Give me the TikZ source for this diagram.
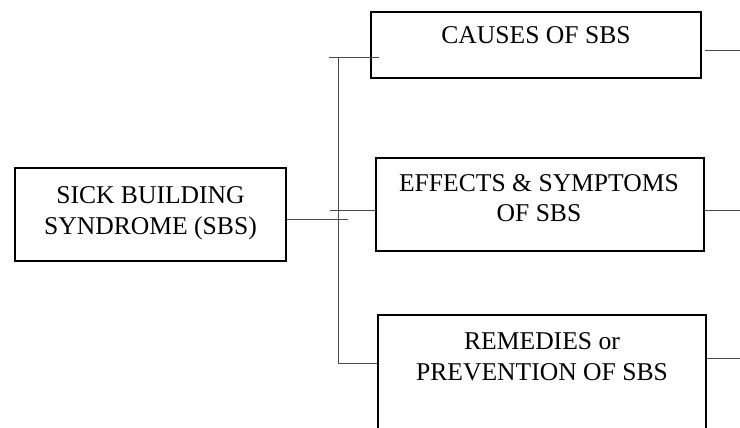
\documentclass[tikz,border=0pt]{standalone}
\usepackage{fontspec}
\setmainfont{Liberation Serif}
\usetikzlibrary{calc}
\begin{document}
\begin{tikzpicture}[x=0.75pt,y=-0.75pt,
  box/.style={draw, line width=1pt, inner sep=0pt},
  txt/.style={align=center, inner sep=0pt, anchor=base, font=\fontsize{19.2}{23}\selectfont},
  conn/.style={line width=0.6pt, draw=black!70}]
\useasboundingbox (0,0) rectangle (740,428);
\clip (0,0) rectangle (740,428);
% boxes
\node[box, minimum width=203.25pt, minimum height=69.75pt] (main) at (150.5,214.5) {};
\node[box, minimum width=247.5pt, minimum height=49.5pt] (causes) at (536,45) {};
\node[box, minimum width=246pt, minimum height=69.75pt] (effects) at (540,204.5) {};
\node[box, minimum width=246pt, minimum height=101.25pt] (remedies) at (542,382.5) {};
% texts (base = last line baseline)
\node[txt] (tmain) at (150.5,234) {SICK BUILDING\\SYNDROME (SBS)};
\node[txt] (tcauses) at (536,44) {CAUSES OF SBS};
\node[txt] (teffects) at (539,222) {EFFECTS \& SYMPTOMS\\OF SBS};
\node[txt] (tremedies) at (542,380) {REMEDIES or\\PREVENTION OF SBS};
% connectors
\coordinate (bustop) at (338,57.7);
\coordinate (busbot) at (338,363);
\coordinate (mainend) at (348,219);
\coordinate (cstart) at (329,57.7);
\coordinate (cend) at (379,57.7);
\coordinate (estart) at (330,210.7);
\coordinate (c1) at (740,50);
\coordinate (c2) at (740,210);
\coordinate (c3) at (740,358);
\draw[conn] ($(main.east)+(0,4.5)$) -- (mainend);
\draw[conn] (bustop) -- (busbot) -- (busbot -| remedies.west);
\draw[conn] (cstart) -- (cend);
\draw[conn] (estart) -- (estart -| effects.west);
\draw[conn] ($(causes.east)+(3,5)$) -- (c1);
\draw[conn] (effects.east |- c2) -- (c2);
\draw[conn] (remedies.east |- c3) -- (c3);
\end{tikzpicture}
\end{document}
